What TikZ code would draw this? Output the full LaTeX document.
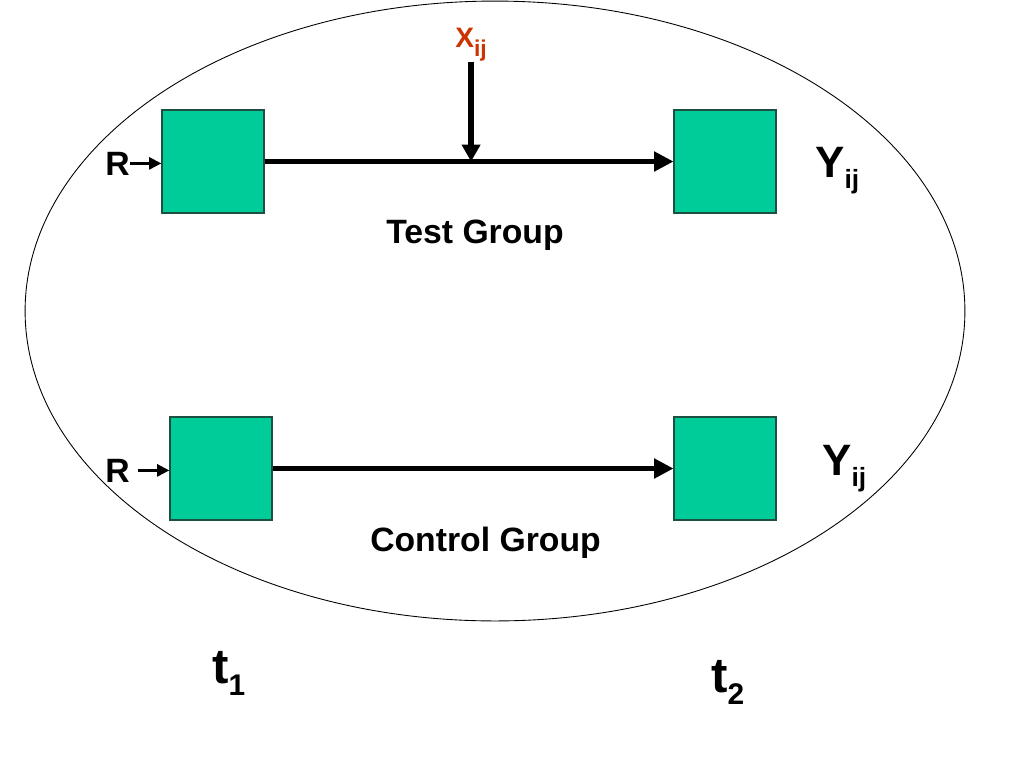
\documentclass[tikz,border=0pt]{standalone}
\usepackage{fontspec}
\setmainfont{Liberation Sans}
\usepackage{tikz}
\usetikzlibrary{arrows.meta, positioning}
\usepackage{xcolor}
\definecolor{boxfill}{RGB}{0,204,153}
\definecolor{boxedge}{RGB}{30,80,65}
\definecolor{treat}{RGB}{204,51,0}

\begin{document}
\begin{tikzpicture}[x=0.02cm, y=-0.02cm,
  box/.style={rectangle, draw=boxedge, line width=0.7pt, fill=boxfill,
    minimum width=2.04cm, minimum height=2.06cm, inner sep=0pt},
  lab/.style={inner sep=0pt, font=\bfseries\fontsize{19.2}{21}\selectfont},
  biglab/.style={inner sep=0pt, anchor=base west, font=\bfseries\fontsize{25}{28}\selectfont},
  arr/.style={-{Triangle[length=11pt, width=11pt]}, line width=2.3pt},
  xarr/.style={-{Triangle[length=9.6pt, width=10.2pt]}, line width=3.4pt},
  rarr/.style={-{Triangle[length=7pt, width=6.8pt]}, line width=1.6pt}
]
\useasboundingbox (0,0) rectangle (1024,768);

% Sample ellipse
\draw[line width=0.5pt] (495,311) ellipse [x radius=9.4cm, y radius=6.2cm];

% Test group
\node[box] (tin) at (213,161.5) {};
\node[box] (tout) at (725,161.5) {};
\node[lab, anchor=base west] (rt) at (105,175) {R};
\node[lab, anchor=base] (tgrp) at (475,243) {Test Group};

% Control group
\node[box] (cin) at (221,468.5) {};
\node[box] (cout) at (725,468.5) {};
\node[lab, anchor=base west] (rc) at (105,482) {R};
\node[lab, anchor=base] (cgrp) at (485.5,551) {Control Group};

% Treatment and outcomes
\node[inner sep=0pt, anchor=base west, text=treat,
  font=\bfseries\fontsize{16}{18}\selectfont] (xlab) at (455,47)
  {X\raisebox{-5.5pt}{\fontsize{13}{14}\selectfont ij}};
\node[biglab] (yt) at (815,177) {Y\raisebox{-6.5pt}{\fontsize{15}{16}\selectfont ij}};
\node[biglab] (yc) at (822,475) {Y\raisebox{-6.5pt}{\fontsize{15}{16}\selectfont ij}};

% Time points
\node[biglab, font=\bfseries\fontsize{28}{30}\selectfont] (t1) at (212,683)
  {t\raisebox{-7pt}{\fontsize{17}{18}\selectfont 1}};
\node[biglab, font=\bfseries\fontsize{28}{30}\selectfont] (t2) at (711,692)
  {t\raisebox{-7pt}{\fontsize{17}{18}\selectfont 2}};

% Arrows
\coordinate (xhit) at (tin -| xlab);
\draw[rarr] (rt) -- (rt -| tin.west);
\draw[rarr, shorten <=0.16cm] (rc) -- (rc -| cin.west);
\draw[arr] (tin) -- (tout);
\draw[arr] (cin) -- (cout);
\draw[xarr] (xlab.south) -- (xhit);

\end{tikzpicture}
\end{document}
